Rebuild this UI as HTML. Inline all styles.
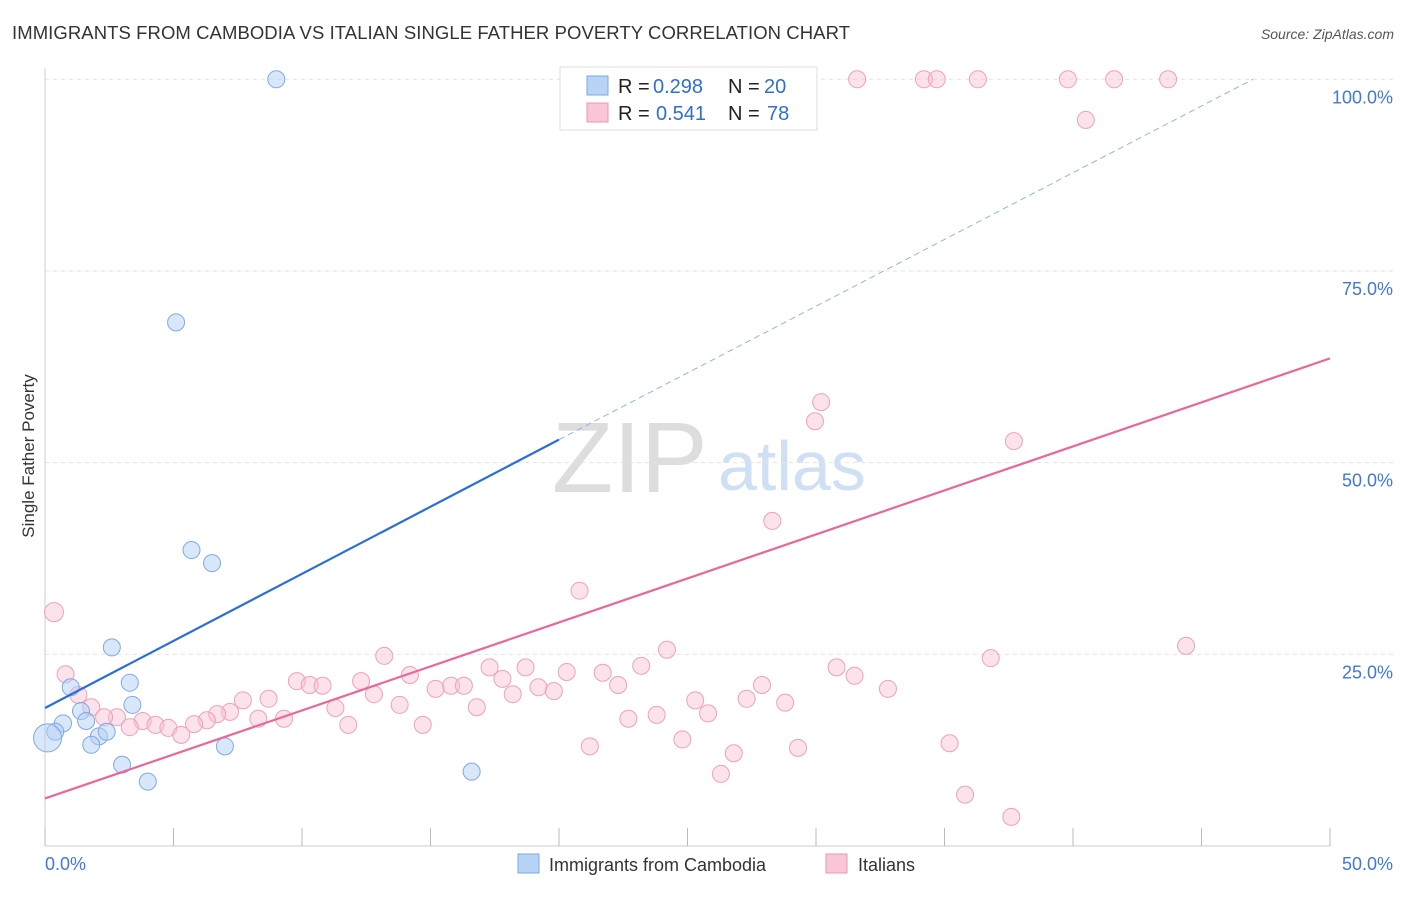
<!DOCTYPE html>
<html><head><meta charset="utf-8"><style>
body{margin:0;background:#fff;font-family:"Liberation Sans",sans-serif;}
svg text{font-family:"Liberation Sans",sans-serif;}
</style></head><body>
<svg id="c" width="1406" height="892">
<text x="12" y="39" font-size="18.5" fill="#333" textLength="838">IMMIGRANTS FROM CAMBODIA VS ITALIAN SINGLE FATHER POVERTY CORRELATION CHART</text>
<text x="1394" y="39" font-size="14" fill="#555" font-style="italic" text-anchor="end">Source: ZipAtlas.com</text>
<text x="34" y="456" font-size="17" fill="#333" transform="rotate(-90 34 456)" text-anchor="middle">Single Father Poverty</text>
<text x="552" y="492" font-size="100" fill="#ddd" font-family="Liberation Serif">ZIP</text>
<text x="718" y="490" font-size="70" fill="#cfe0f5">atlas</text>
<g id="grid"></g><g id="pts"></g><g id="lines"></g>
<g>
<rect x="560" y="67" width="257" height="63" fill="#fff" stroke="#ddd"/>
<rect x="587" y="76" width="21" height="19" fill="#b8d4f5" stroke="#7aaae6"/>
<rect x="587" y="103" width="21" height="19" fill="#f9c6d6" stroke="#ee97b3"/>
<text x="618" y="93" font-size="20" fill="#222">R =</text>
<text x="653" y="93" font-size="20" fill="#2f6fd0">0.298</text>
<text x="728" y="93" font-size="20" fill="#222">N =</text>
<text x="764" y="93" font-size="20" fill="#2f6fd0">20</text>
<text x="618" y="120" font-size="20" fill="#222">R =</text>
<text x="656" y="120" font-size="20" fill="#2f6fd0">0.541</text>
<text x="728" y="120" font-size="20" fill="#222">N =</text>
<text x="767" y="120" font-size="20" fill="#2f6fd0">78</text>
</g>
<g>
<rect x="518" y="854" width="21" height="19" fill="#b8d4f5" stroke="#7aaae6"/>
<text x="549" y="871" font-size="18" fill="#333">Immigrants from Cambodia</text>
<rect x="826" y="854" width="21" height="19" fill="#f9c6d6" stroke="#ee97b3"/>
<text x="858" y="871" font-size="18" fill="#333">Italians</text>
</g>
</svg>
<script>
const yTicks=[25,50,75,100];
const xTickLabels=["0.0%","50.0%"];
const blueX=[9.0,5.1,5.7,6.5,2.6,3.3,1.0,3.4,1.4,0.7,1.6,0.4,0.1,2.1,2.4,1.8,3.0,4.0,7.0,16.6];
const blueY=[100,68.3,38.6,36.9,25.9,21.3,20.7,18.4,17.6,16.0,16.3,14.9,14.1,14.3,14.9,13.2,10.6,8.4,13.0,9.7];
const pinkX=[31.6,34.2,34.7,36.3,39.8,41.6,43.7,40.5,30.2,29.96,37.7,28.3,20.8,0.35,44.4,24.2,36.8,13.2,0.8,30.8,31.5,23.2,18.7,17.3,20.3,21.7,14.2,9.8,12.3,10.3,10.8,17.8,22.3,27.9,32.8,15.2,15.8,16.3,19.2,19.8,18.2,12.8,1.3,7.7,8.7,25.3,27.3,28.8,11.3,16.8,13.8,1.8,25.8,7.2,6.7,23.8,22.7,2.8,2.3,9.3,8.3,6.3,5.8,3.8,3.3,4.3,11.8,14.7,4.8,5.3,24.8,35.2,21.2,29.3,26.8,26.3,35.8,37.6];
const pinkY=[100,100,100,100,100,100,100,94.7,57.9,55.4,52.8,42.4,33.3,30.5,26.1,25.6,24.5,24.8,22.4,23.3,22.2,23.5,23.3,23.3,22.7,22.6,22.3,21.5,21.5,21.0,20.9,21.8,21.0,21.0,20.5,20.5,20.9,20.9,20.7,20.2,19.8,19.8,19.7,19.0,19.2,19.0,19.2,18.7,18.0,18.1,18.4,18.1,17.3,17.5,17.2,17.1,16.6,16.8,16.8,16.6,16.6,16.4,15.9,16.3,15.5,15.8,15.8,15.8,15.4,14.5,13.9,13.4,13.0,12.8,12.1,9.4,6.7,3.8];
const blueLine=[[0,18],[20,53]];
const blueDash=[[20,53],[47,100]];
const pinkLine=[[0,6.2],[50,63.6]];
const NS="http://www.w3.org/2000/svg";
const X=v=>45+v*25.7, Y=v=>846-v*7.667;
function mk(t,a,p){const e=document.createElementNS(NS,t);for(const k in a)e.setAttribute(k,a[k]);p.appendChild(e);return e;}
const grid=document.getElementById('grid');
for(const t of yTicks){
 const g=mk('line',{x1:45,x2:1393,y1:Y(t),y2:Y(t),stroke:'#e2e2e2','stroke-dasharray':'4 4'},grid);
 
 
 const tx=mk('text',{x:1393,y:Y(t)+24,'font-size':18,fill:'#3f78d6','text-anchor':'end'},grid);tx.textContent=t.toFixed(1)+'%';
 
 
}
const ax=mk('line',{x1:45,x2:1330,y1:846,y2:846,stroke:'#ccc'},grid);


const ay=mk('line',{x1:45,x2:45,y1:68,y2:846,stroke:'#ccc'},grid);


for(let i=0;i<=10;i++){const l=mk('line',{x1:X(i*5),x2:X(i*5),y1:828,y2:846,stroke:'#bbb'},grid);
 
 }
xTickLabels.forEach((s,i)=>{const t=mk('text',{x:i?1393:45,y:870,'font-size':18,fill:'#3f78d6','text-anchor':i?'end':'start'},grid);t.textContent=s;
 
 });
const pts=document.getElementById('pts');
pinkX.forEach((x,i)=>{const c=mk('circle',{cx:X(x),cy:Y(pinkY[i]),r:i==13?9.5:8.5,fill:'rgba(248,190,208,0.45)',stroke:'#f0a0bb','stroke-width':1},pts);
 
 });
blueX.forEach((x,i)=>{const c=mk('circle',{cx:X(x),cy:Y(blueY[i]),r:i==12?14:8.5,fill:'rgba(180,208,245,0.5)',stroke:'#7eaae4','stroke-width':1},pts);
 
 });
const L=document.getElementById('lines');
const b=mk('line',{x1:X(blueLine[0][0]),y1:Y(blueLine[0][1]),x2:X(blueLine[1][0]),y2:Y(blueLine[1][1]),stroke:'#2a6fd6','stroke-width':2.2},L);


const bd=mk('line',{x1:X(blueDash[0][0]),y1:Y(blueDash[0][1]),x2:X(blueDash[1][0]),y2:Y(blueDash[1][1]),stroke:'#8fb4e8','stroke-width':1,'stroke-dasharray':'6 4'},L);


const p=mk('line',{x1:X(pinkLine[0][0]),y1:Y(pinkLine[0][1]),x2:X(pinkLine[1][0]),y2:Y(pinkLine[1][1]),stroke:'#e8689a','stroke-width':2.2},L);


</script>
</body></html>
